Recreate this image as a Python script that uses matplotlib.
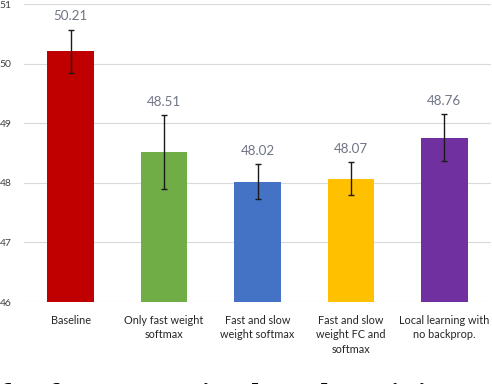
import matplotlib
matplotlib.use('Agg')
from matplotlib import pyplot as plt
import numpy as np

categories = ['Baseline', 'Only fast weight\nsoftmax', 'Fast and slow\nweight softmax',
              'Fast and slow\nweight FC and\nsoftmax', 'Local learning with\nno backprop.']
values = [50.21, 48.51, 48.02, 48.07, 48.76]
errors = [0.36, 0.62, 0.30, 0.28, 0.40]
colors = ['#C00000', '#70AD47', '#4472C4', '#FFC000', '#7030A0']
yticks = [46, 47, 48, 49, 50, 51]
caption = 'for fo CNN trained on the Mini ImageNet'

fig = plt.figure(figsize=(4.92, 3.84), dpi=100)
ax = fig.add_axes([24/492, 1 - 302/384, 467/492, 298/384])

x = np.arange(len(categories))
ax.bar(x, np.array(values) - 46, bottom=46, width=0.5, color=colors, zorder=2)
ax.errorbar(x, values, yerr=errors, fmt='none', ecolor='#1a1a1a',
            elinewidth=1.0, capsize=2.2, capthick=1.0, zorder=3)
for xi, v, e in zip(x, values, errors):
    ax.text(xi, v + e + 0.12, f'{v:.2f}', ha='center', va='bottom',
            fontsize=9.6, color='#6f7585', family='Lato')

ax.set_xlim(-0.5, 4.5)
ax.set_ylim(46, 51)
ax.set_yticks(yticks)
ax.set_yticklabels([str(t) for t in yticks], fontsize=7.5, color='#404040', family='Lato')
ax.tick_params(axis='y', length=0, pad=9)
ax.set_xticks(x)
ax.set_xticklabels(categories, fontsize=7.8, color='#262626', family='Lato', linespacing=1.4)
ax.tick_params(axis='x', length=0, pad=9)
ax.grid(axis='y', color='#d9d9d9', linewidth=0.8, zorder=0)
for s in ax.spines.values():
    s.set_visible(False)

# caption line of the page, mostly cut off at the bottom edge
fig.text(0.0, 1 - 405/384, caption, fontsize=23, family='Liberation Serif',
         fontweight='bold', va='baseline', ha='left')

fig.savefig('out.png', dpi=100)
